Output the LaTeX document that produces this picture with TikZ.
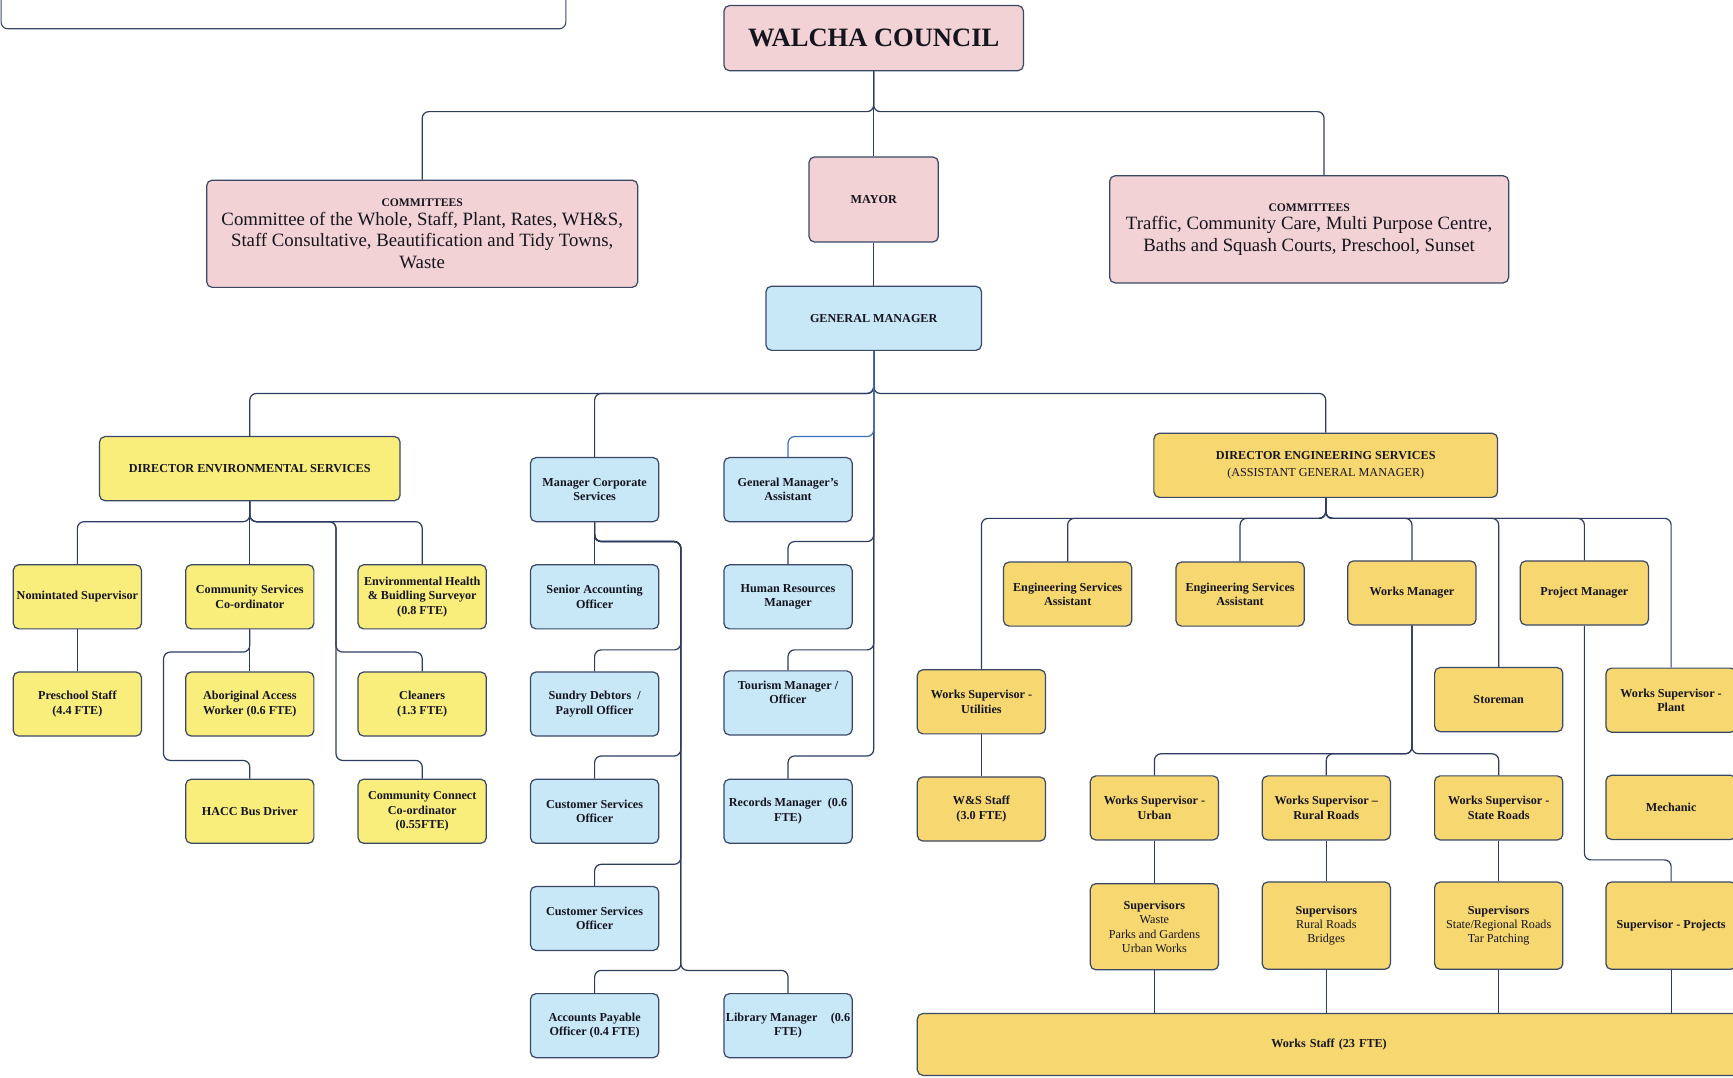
\documentclass[tikz,border=0pt]{standalone}
\usepackage{fontspec}
\setmainfont{Liberation Serif}
\definecolor{pinkc}{HTML}{F2D2D4}
\definecolor{bluec}{HTML}{C8E7F7}
\definecolor{lemc}{HTML}{F9EE7C}
\definecolor{goldc}{HTML}{F6D770}
\definecolor{bord}{HTML}{3A4868}
\definecolor{linec}{HTML}{2E3C62}
\definecolor{bluel}{HTML}{3B72BE}
\definecolor{txt}{HTML}{15151F}
\tikzset{
  box/.style={draw=bord, line width=1.1pt, rounded corners=5pt, align=center, inner sep=1pt, text=txt, font=\bfseries\fontsize{11}{13}\selectfont},
  sm/.style={box, minimum width=116pt, minimum height=58pt},
  pinkb/.style={fill=pinkc},
  blueb/.style={fill=bluec},
  lemb/.style={fill=lemc},
  goldb/.style={fill=goldc},
  conn/.style={draw=linec, line width=1.1pt, rounded corners=6pt},
}
\begin{document}
\begin{tikzpicture}[x=1pt,y=-1pt]
\useasboundingbox (0,0) rectangle (1568,975);
% partial box at top left
\node[draw=bord, line width=1pt, rounded corners=6pt, minimum width=511pt, minimum height=70pt, inner sep=0pt] (titlebox) at (256.5,-9) {};

% top level
\node[box, pinkb, minimum width=271pt, minimum height=59pt, font=\bfseries\fontsize{24}{28}\selectfont] (council) at (790.5,34.5) {WALCHA COUNCIL};
\node[box, pinkb, minimum width=390pt, minimum height=97pt, font=\mdseries\fontsize{17}{19.5}\selectfont] (coml) at (382,211.5)
  {{\bfseries\fontsize{10.5}{12}\selectfont COMMITTEES}\\[-3pt]
   Committee of the Whole, Staff, Plant, Rates, WH\&S,\\
   Staff Consultative, Beautification and Tidy Towns,\\
   Waste};
\node[box, pinkb, minimum width=117pt, minimum height=77pt] (mayor) at (790.5,180.5) {MAYOR};
\node[box, pinkb, minimum width=361pt, minimum height=97pt, font=\mdseries\fontsize{17}{19.5}\selectfont] (comr) at (1184.5,207.5)
  {{\bfseries\fontsize{10.5}{12}\selectfont COMMITTEES}\\[-3pt]
   Traffic, Community Care, Multi Purpose Centre,\\
   Baths and Squash Courts, Preschool, Sunset};
\node[box, blueb, minimum width=195pt, minimum height=58pt] (gm) at (790.5,288) {GENERAL MANAGER};

% directors / managers
\node[box, lemb, minimum width=272pt, minimum height=58pt] (des) at (226,424) {DIRECTOR ENVIRONMENTAL SERVICES};
\node[sm, blueb] (mcs) at (538,443) {Manager Corporate\\Services};
\node[sm, blueb] (gma) at (713,443) {General Manager's\\Assistant};
\node[box, goldb, minimum width=311pt, minimum height=58pt, font=\bfseries\fontsize{11}{16}\selectfont] (deng) at (1199.5,421)
  {DIRECTOR ENGINEERING SERVICES\\{\mdseries (ASSISTANT GENERAL MANAGER)}};

% environmental services
\node[sm, lemb] (nom) at (70,540) {Nomintated Supervisor};
\node[sm, lemb] (csc) at (226,540) {Community Services\\Co-ordinator};
\node[sm, lemb] (ehb) at (382,540) {Environmental Health\\\& Buidling Surveyor\\(0.8 FTE)};
\node[sm, lemb] (pre) at (70,637) {Preschool Staff\\(4.4 FTE)};
\node[sm, lemb] (abor) at (226,637) {Aboriginal Access\\Worker (0.6 FTE)};
\node[sm, lemb] (clean) at (382,637) {Cleaners\\(1.3 FTE)};
\node[sm, lemb] (hacc) at (226,734) {HACC Bus Driver};
\node[sm, lemb] (cconn) at (382,734) {Community Connect\\Co-ordinator\\(0.55FTE)};

% corporate services
\node[sm, blueb] (sao) at (538,540) {Senior Accounting\\Officer};
\node[sm, blueb] (sdp) at (538,637) {Sundry Debtors~~/\\Payroll Officer};
\node[sm, blueb] (cso1) at (538,734) {Customer Services\\Officer};
\node[sm, blueb] (cso2) at (538,831) {Customer Services\\Officer};
\node[sm, blueb] (apo) at (538,928) {Accounts Payable\\Officer (0.4 FTE)};
\node[sm, blueb] (lib) at (713,928) {Library Manager\hspace{1.1em}(0.6\\FTE)};

% GM column
\node[sm, blueb] (hr) at (713,540) {Human Resources\\Manager};
\node[sm, blueb] (tour) at (713,636) {Tourism Manager /\\Officer\\[6pt]};
\node[sm, blueb] (rec) at (713,734) {Records Manager~~(0.6\\FTE)};

% engineering services
\node[sm, goldb] (wsu) at (888,635) {Works Supervisor -\\Utilities};
\node[sm, goldb] (esa1) at (966,537.5) {Engineering Services\\Assistant};
\node[sm, goldb] (esa2) at (1122,537.5) {Engineering Services\\Assistant};
\node[sm, goldb] (wm) at (1277.5,536.5) {Works Manager};
\node[sm, goldb] (store) at (1356,633) {Storeman};
\node[sm, goldb] (pm) at (1433.5,536.5) {Project Manager};
\node[sm, goldb, minimum width=118pt] (wsp) at (1512,633.5) {Works Supervisor -\\Plant};
\node[sm, goldb, minimum width=118pt] (mech) at (1512,730.5) {Mechanic};
\node[sm, goldb] (wss) at (888,732) {W\&S Staff\\(3.0 FTE)};
\node[sm, goldb] (wsurb) at (1044.5,731) {Works Supervisor -\\Urban};
\node[sm, goldb] (wsrr) at (1200,731) {Works Supervisor --\\Rural Roads};
\node[sm, goldb] (wssr) at (1356,731) {Works Supervisor -\\State Roads};
\node[sm, goldb, minimum height=78pt] (supu) at (1044.5,838.5) {Supervisors\\{\mdseries Waste}\\{\mdseries Parks and Gardens}\\{\mdseries Urban Works}};
\node[sm, goldb, minimum height=79pt] (supr) at (1200,837.5) {Supervisors\\{\mdseries Rural Roads}\\{\mdseries Bridges}};
\node[sm, goldb, minimum height=79pt] (sups) at (1356,837.5) {Supervisors\\{\mdseries State/Regional Roads}\\{\mdseries Tar Patching}};
\node[sm, goldb, minimum width=118pt, minimum height=79pt] (supp) at (1512,837.5) {Supervisor - Projects};
\node[box, goldb, minimum width=745pt, minimum height=56pt, text width=730pt] (wstaff) at (1202.5,945) {Works Staff (23 FTE)};

% junction coordinates
\coordinate (jtop) at (790.5,101);
\coordinate (jgm) at (790.5,356);
\coordinate (jdes) at (226,472);
\coordinate (jdeng) at (1199.5,469);
\coordinate (jwm) at (1277.5,682);

% connectors: top
\draw[conn] (council.south) -- (mayor.north);
\draw[conn] (council.south) -- (jtop) -| (coml.north);
\draw[conn] (council.south) -- (jtop) -| ([xshift=13.5pt]comr.north);
\draw[conn] (mayor.south) -- (gm.north);
\draw[conn] (gm.south) -- (jgm) -| (des.north);
\draw[conn] (gm.south) -- (jgm) -| (mcs.north);
\draw[conn] (gm.south) -- (jgm) -| (deng.north);
\draw[conn] (gm.south) -- (790.5,684) -| (rec.north);
\draw[conn] (gm.south) -- (790.5,490) -| (hr.north);
\draw[conn] (gm.south) -- (790.5,588) -| (tour.north);
\draw[conn, draw=bluel] (gm.south) -- (790.5,395) -| (gma.north);

% environmental
\draw[conn] (des.south) -- (csc.north);
\draw[conn] (des.south) -- (jdes) -| (nom.north);
\draw[conn] (des.south) -- (jdes) -| (ehb.north);
\draw[conn] (des.south) -- (jdes) -- (304,472) -- (304,590) -| (clean.north);
\draw[conn] (des.south) -- (jdes) -- (304,472) -- (304,688) -| (cconn.north);
\draw[conn] (nom.south) -- (pre.north);
\draw[conn] (csc.south) -- (abor.north);
\draw[conn] (csc.south) -- (226,590) -- (148,590) -- (148,688) -| (hacc.north);

% corporate
\draw[conn] (mcs.south) -- (sao.north);
\draw[conn] (mcs.south) -- (538,490) -- (616,490) -- (616,588) -| (sdp.north);
\draw[conn] (mcs.south) -- (538,490) -- (616,490) -- (616,684) -| (cso1.north);
\draw[conn] (mcs.south) -- (538,490) -- (616,490) -- (616,782) -| (cso2.north);
\draw[conn] (mcs.south) -- (538,490) -- (616,490) -- (616,878) -| (apo.north);
\draw[conn] (mcs.south) -- (538,490) -- (616,490) -- (616,878) -| (lib.north);

% engineering
\draw[conn] (deng.south) -- (jdeng) -| (wsu.north);
\draw[conn] (deng.south) -- (jdeng) -| (esa1.north);
\draw[conn] (deng.south) -- (jdeng) -| (esa2.north);
\draw[conn] (deng.south) -- (jdeng) -| (wm.north);
\draw[conn] (deng.south) -- (jdeng) -| (store.north);
\draw[conn] (deng.south) -- (jdeng) -| (pm.north);
\draw[conn] (deng.south) -- (jdeng) -| (wsp.north);
\draw[conn] (wsu.south) -- (wss.north);
\draw[conn] (wm.south) -- (jwm) -| (wsurb.north);
\draw[conn] (wm.south) -- (jwm) -| (wsrr.north);
\draw[conn] (wm.south) -- (jwm) -| (wssr.north);
\draw[conn] (wsurb.south) -- (supu.north);
\draw[conn] (wsrr.south) -- (supr.north);
\draw[conn] (wssr.south) -- (sups.north);
\draw[conn] (pm.south) -- (1433.5,778) -| (supp.north);
\draw[conn] (supu.south) -- (supu.south |- wstaff.north);
\draw[conn] (supr.south) -- (supr.south |- wstaff.north);
\draw[conn] (sups.south) -- (sups.south |- wstaff.north);
\draw[conn] (supp.south) -- (supp.south |- wstaff.north);
\end{tikzpicture}
\end{document}
